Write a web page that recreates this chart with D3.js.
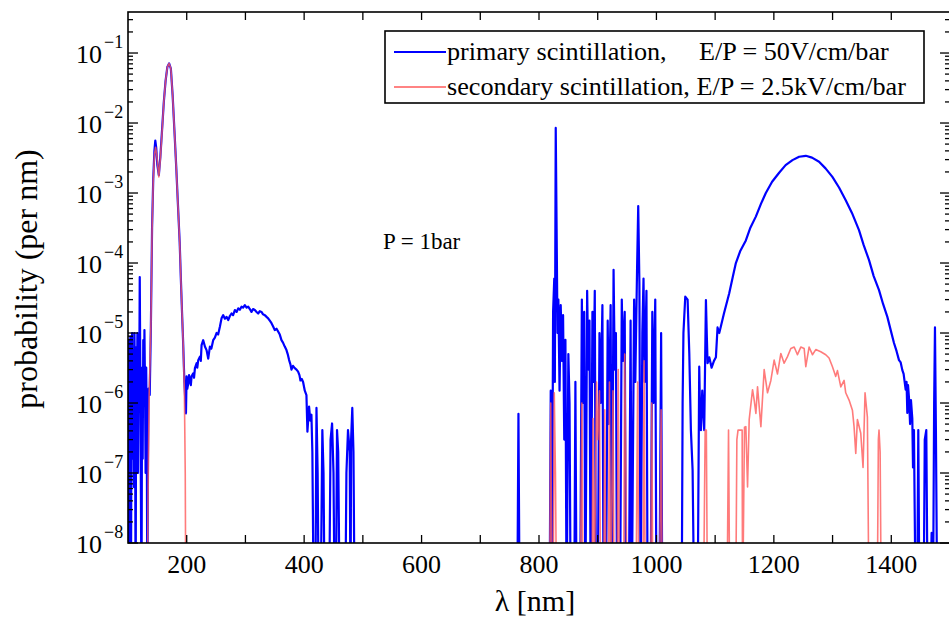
<!DOCTYPE html>
<html>
<head>
<meta charset="utf-8">
<script src="https://cdn.jsdelivr.net/npm/d3@7/dist/d3.min.js"></script>
<style>
  body { margin: 0; background: #fff; }
  svg { display: block; }
  text { font-family: "Liberation Serif", "Times New Roman", serif; fill: #000; }
</style>
</head>
<body>
<svg id="chart" width="949" height="621"></svg>
<script>
// ---- data: [wavelength nm, probability per nm]; 0 = nothing recorded ----
const primaryUV = [
  [100, 3.2e-6], [101, 0], [102, 7.9e-6], [103, 3.2e-7], [104, 8.9e-6], [105, 0], [106, 2.5e-6],
  [107, 1.0e-5], [108, 1.6e-7], [109, 5.0e-6], [110, 6.3e-8], [111, 1.0e-5], [112, 1.0e-6], [113, 0],
  [114, 6.3e-6], [115, 5.0e-7], [116, 1.0e-5], [117, 1.0e-7], [118, 4.0e-6], [119, 1.0e-6],
  [120, 6.3e-5], [121, 2.5e-6], [122, 5.0e-8], [123, 0], [124, 3.2e-6], [125, 1.6e-7], [126, 7.9e-6],
  [127, 1.0e-6], [128, 1.1e-5], [129, 1.6e-6], [130, 1.0e-7], [131, 3.2e-6], [132, 3.2e-7], [133, 0],
  [134, 1.6e-7], [135, 1.6e-6], [137, 1.3e-6], [139, 1.3e-5], [141, 3.2e-4], [143, 1.6e-3],
  [145, 4.0e-3], [146.5, 5.6e-3], [148, 4.5e-3], [150, 2.5e-3], [152.5, 1.8e-3], [155, 3.2e-3],
  [158, 7.9e-3], [161, 2.0e-2], [164, 4.0e-2], [167, 6.3e-2], [170, 7.1e-2], [173, 6.0e-2],
  [176, 2.5e-2], [179, 8.0e-3], [182, 2.5e-3], [185, 7.0e-4], [188, 2.0e-4], [190, 6.0e-5],
  [192, 2.0e-5], [194, 7.0e-6], [196, 2.0e-6], [198.7, 7.1e-7], [199.8, 2.4e-6], [201, 1.6e-6],
  [202.6, 1.9e-6], [204, 2.5e-6], [205.5, 2.1e-6], [207, 1.8e-6], [208.3, 2.4e-6], [211.1, 2.65e-6],
  [212.5, 2.3e-6], [214, 3.15e-6], [216.8, 3.7e-6], [218, 3.2e-6], [219.6, 4.1e-6], [222.5, 4.6e-6],
  [224, 4.0e-6], [225.3, 6.7e-6], [228.1, 7.9e-6], [231, 6.4e-6], [233.8, 5.7e-6], [236.6, 4.3e-6],
  [239.5, 6.4e-6], [242, 6.0e-6], [245.1, 7.9e-6], [248, 8.6e-6], [250.8, 1.0e-5], [253.5, 9.5e-6],
  [256.5, 1.23e-5], [259.3, 1.62e-5], [262.2, 1.8e-5], [265, 1.6e-5], [267.8, 1.7e-5],
  [270.7, 1.53e-5], [273.5, 1.75e-5], [276.3, 1.9e-5], [279, 1.8e-5], [282, 2.13e-5], [285, 2.0e-5],
  [287.7, 2.25e-5], [290.5, 2.15e-5], [293.3, 2.38e-5], [296, 2.3e-5], [299, 2.5e-5], [302, 2.3e-5],
  [304.7, 2.38e-5], [307.5, 2.2e-5], [310.3, 2.0e-5], [313, 2.2e-5], [316, 2.13e-5], [319, 2.0e-5],
  [321.7, 1.9e-5], [324.5, 2.05e-5], [327.4, 2.0e-5], [330, 1.85e-5], [333, 1.8e-5], [336, 1.7e-5],
  [338.7, 1.62e-5], [341.5, 1.5e-5], [344.4, 1.38e-5], [347, 1.25e-5], [350, 1.1e-5], [353, 1.15e-5],
  [355.7, 1.05e-5], [358.5, 9.5e-6], [361.4, 7.9e-6], [364, 7.3e-6], [367, 6.4e-6], [369.9, 5.7e-6],
  [372, 5.0e-6], [374.4, 4.1e-6], [376.5, 3.6e-6], [378.4, 3.0e-6], [381, 3.4e-6], [384, 3.15e-6],
  [387, 3.0e-6], [389.7, 2.8e-6], [392, 2.5e-6], [393.7, 2.1e-6], [396, 2.2e-6], [398.2, 2.0e-6],
  [401.1, 1.5e-6], [403.9, 1.3e-6], [405.6, 3.9e-7], [408.4, 8.9e-7], [410.5, 5.6e-7],
  [412.4, 6.8e-7], [414, 2.0e-7], [416.4, 0], [419, 0], [421, 8.5e-7], [423, 1.0e-7], [424.9, 0],
  [428, 0], [431, 4.1e-7], [433, 1.0e-7], [435, 0], [442.5, 0], [445, 3.0e-7], [447.6, 5.1e-7],
  [450, 1.0e-7], [452, 0], [454, 0], [456, 4.1e-7], [458, 2.0e-7], [460.6, 0], [470, 0],
  [472, 1.0e-7], [474.7, 4.1e-7], [476, 3.0e-7], [477.6, 2.0e-7], [479, 0], [480, 3.0e-7],
  [482, 8.5e-7], [484, 2.0e-7], [486, 0], [490, 0]
];

const primaryNIR = [
  [755, 0], [763, 0], [765, 7e-7], [767, 0], [818, 0], [820, 1.5e-6], [822, 0], [824, 2e-5],
  [826, 6e-5], [827, 2e-6], [828.5, 8.5e-3], [830, 3e-4], [831.5, 1e-5], [833, 3e-5], [835, 1.5e-6],
  [837, 2.5e-5], [839, 4e-6], [841, 1.8e-5], [843, 3e-7], [845, 8e-6], [847, 0], [850, 5e-6],
  [852, 1e-6], [854, 0], [860, 0], [862, 2e-6], [864, 0], [870, 0], [873, 3e-5], [875, 1e-6],
  [877, 2e-5], [879, 0], [882, 4e-5], [884, 3e-6], [886, 1.5e-5], [888, 0], [891, 2e-5], [893, 2e-6],
  [895, 4e-5], [897, 0], [900, 0], [903, 1e-5], [905, 1e-6], [908, 2.5e-5], [910, 0], [914, 0],
  [917, 1.5e-5], [919, 5e-7], [922, 2.5e-5], [924, 0], [927, 8e-5], [929, 3e-6], [931, 1e-5],
  [933, 0], [938, 0], [941, 3e-5], [943, 4e-6], [946, 2e-5], [948, 0], [953, 0], [956, 1.5e-5],
  [958, 0], [962, 3e-5], [964, 2e-6], [967, 8e-5], [969, 6.5e-4], [971, 5e-5], [973, 0], [976, 1e-5],
  [978, 6e-5], [980, 2e-6], [983, 4e-5], [985, 0], [990, 0], [993, 2e-5], [995, 1e-6], [998, 3e-5],
  [1000, 0], [1005, 0], [1008, 1e-5], [1010, 0], [1043, 0]
];

const primaryIR = [
  [1043, 0], [1044.6, 1e-6], [1046, 1e-5], [1049.1, 3.3e-5], [1053.1, 3.0e-5], [1056, 5e-6],
  [1058.7, 4.1e-7], [1061.6, 1.1e-7], [1064.4, 0], [1070.1, 0], [1072.9, 3.3e-6], [1074, 1e-6],
  [1075.8, 4.1e-7], [1078, 1.5e-6], [1081.4, 4.1e-7], [1084.3, 2.95e-5], [1086, 8e-6],
  [1087.1, 3.7e-6], [1090, 4.5e-6], [1094, 3.2e-6], [1098, 4.0e-6], [1101.3, 4.5e-6],
  [1104.1, 1.2e-5], [1107, 1.0e-5], [1109.8, 1.25e-5], [1115, 1.9e-5], [1124, 3.7e-5],
  [1130, 6.3e-5], [1135.3, 1.0e-4], [1143, 1.5e-4], [1152.3, 2.1e-4], [1160, 3.2e-4],
  [1169.3, 4.6e-4], [1178, 7.0e-4], [1186.3, 1.0e-3], [1197, 1.45e-3], [1209, 1.95e-3],
  [1220, 2.5e-3], [1231.7, 2.95e-3], [1243, 3.3e-3], [1254.4, 3.4e-3], [1265, 3.2e-3],
  [1277, 2.8e-3], [1288, 2.25e-3], [1299.7, 1.7e-3], [1311, 1.2e-3], [1322.4, 7.9e-4],
  [1333, 5.2e-4], [1345, 2.95e-4], [1353, 1.8e-4], [1362.1, 1.1e-4], [1370, 6.5e-5],
  [1379.1, 4.1e-5], [1386, 2.6e-5], [1393.3, 1.7e-5], [1399, 1.1e-5], [1404.6, 7.2e-6],
  [1409, 5.5e-6], [1413.1, 4.1e-6], [1416, 3.8e-6], [1418.8, 2.95e-6], [1421, 2.6e-6],
  [1424.5, 1.55e-6], [1426, 2.0e-6], [1427.3, 7.2e-7], [1428.5, 1.8e-6], [1430.1, 1.2e-6],
  [1432, 5e-7], [1433.5, 1.1e-6], [1435.8, 6.0e-7], [1437, 1.2e-7], [1438.6, 4.1e-7], [1441.5, 0],
  [1444, 0], [1446, 4.1e-7], [1448, 0], [1455, 0], [1457, 3e-7], [1459.6, 4.1e-7], [1462, 0],
  [1466, 0], [1468.7, 1.4e-8], [1471, 0], [1473, 1e-6], [1474.4, 1.2e-5], [1476, 4e-7],
  [1478.3, 0], [1500, 0]
];

const secondaryUV = [
  [100, 0], [132.6, 0], [134, 3.2e-8], [136, 1.3e-6], [139, 1.3e-5], [141, 3.0e-4], [143, 1.5e-3],
  [145, 3.5e-3], [147, 4.5e-3], [149, 3.5e-3], [152.5, 1.7e-3], [155, 3.0e-3], [158, 7.5e-3],
  [161, 2.0e-2], [164, 4.0e-2], [167, 6.3e-2], [170, 7.1e-2], [173, 6.0e-2], [176, 2.5e-2],
  [179, 8.0e-3], [182, 2.5e-3], [185, 7.0e-4], [188, 2.0e-4], [190, 6.0e-5], [192, 2.0e-5],
  [194, 7.0e-6], [196, 1.5e-6], [197.5, 1.0e-7], [198.5, 0], [800, 0]
];

const secondaryNIR = [
  [800, 0], [818, 0], [820, 1e-6], [822, 0], [824, 0], [826, 1.4e-6], [828, 1e-7], [830, 0],
  [870, 0], [873, 1e-6], [875, 0], [890, 0], [892, 6e-7], [894, 0], [898, 2e-6], [900, 3e-7],
  [903, 1.5e-6], [905, 0], [910, 0], [912, 8e-7], [914, 0], [918, 0], [920, 2e-6], [922, 0],
  [926, 1.5e-6], [928, 0], [933, 0], [935, 3e-6], [937, 0], [944, 0], [946, 5e-6], [948, 1e-7],
  [950, 0], [965, 0], [968, 2e-6], [970, 0], [977, 0], [979, 4e-6], [981, 0], [990, 0], [992, 1e-6],
  [994, 0], [1005, 0], [1008, 8e-7], [1010, 0], [1080, 0]
];

const secondaryIR = [
  [1080, 0], [1083, 4.1e-7], [1085, 4.1e-7], [1087, 0], [1120, 0], [1122.8, 4.1e-7], [1125, 0],
  [1135, 0], [1137, 3e-7], [1139, 4.1e-7], [1141, 4.1e-7], [1146, 4.1e-7], [1146.7, 0],
  [1150, 4.5e-7], [1152.3, 4.6e-7], [1155.2, 6.3e-8], [1158, 5.8e-7], [1163.7, 1.55e-6],
  [1166.5, 1.1e-6], [1169.4, 7.1e-7], [1172.2, 1.7e-6], [1177.9, 4.6e-7], [1183.5, 3.0e-6],
  [1189.2, 1.4e-6], [1194.9, 2.1e-6], [1200.5, 4.1e-6], [1206.2, 2.6e-6], [1211.9, 5.1e-6],
  [1217.5, 3.7e-6], [1223.2, 4.6e-6], [1228.9, 6.0e-6], [1234.6, 6.3e-6], [1240.2, 4.9e-6],
  [1245.9, 6.3e-6], [1251.6, 6.0e-6], [1254.4, 3.3e-6], [1260, 6.3e-6], [1265.7, 4.9e-6],
  [1271.4, 5.8e-6], [1279.9, 5.4e-6], [1288.4, 4.9e-6], [1294, 4.4e-6], [1299.8, 3.3e-6],
  [1305.4, 2.4e-6], [1308.3, 2.9e-6], [1314, 1.7e-6], [1319.6, 2.1e-6], [1322.4, 1.4e-6],
  [1328.1, 1.1e-6], [1333.8, 7.9e-7], [1336.6, 4.6e-7], [1339.5, 1.9e-7], [1342.3, 5.8e-7],
  [1348, 3.7e-7], [1351.9, 1.2e-7], [1355.3, 1.4e-6], [1359.3, 6.3e-7], [1362.1, 0], [1376, 0],
  [1378, 3e-7], [1379.1, 4.1e-7], [1381, 2e-7], [1383, 0], [1500, 0]
];

const xTickLabels = [200, 400, 600, 800, 1000, 1200, 1400];
const yDecades = [-8, -7, -6, -5, -4, -3, -2, -1];
const legendItems = [
  { name: 'primary scintillation,', field: 'E/P = 50V/cm/bar', color: '#0000ff' },
  { name: 'secondary scintillation, E/P = 2.5kV/cm/bar', field: null, color: '#ff5a5a' }
];

// ---- layout ----
const svg = d3.select('#chart');
const m = { l: 128, r: 950, t: 12, b: 543 };

const x = d3.scaleLinear().domain([100, 1500]).range([m.l, m.r]);
const y = d3.scaleLog().domain([1e-8, Math.pow(10, -0.414)]).range([m.b, m.t]);
const yv = v => y(Math.max(v, 1e-9)); // zero / tiny values run off the bottom and get clipped

svg.append('defs').append('clipPath').attr('id', 'plot-clip')
  .append('rect').attr('x', m.l).attr('y', m.t).attr('width', m.r - m.l).attr('height', m.b - m.t);

const line = d3.line().x(d => x(d[0])).y(d => yv(d[1]));
const plot = svg.append('g').attr('clip-path', 'url(#plot-clip)');

const primary = primaryUV.concat(primaryNIR.slice(1), primaryIR.slice(1));
const secondary = secondaryUV.concat(secondaryNIR.slice(1), secondaryIR.slice(1));

plot.append('path').datum(primary)
  .attr('fill', 'none').attr('stroke', '#0000ff').attr('stroke-width', 2.2)
  .attr('stroke-linejoin', 'round').attr('d', line);
plot.append('path').datum(secondary)
  .attr('fill', 'none').attr('stroke', '#ff5a5a').attr('stroke-opacity', 0.8).attr('stroke-width', 1.6)
  .attr('stroke-linejoin', 'round').attr('d', line);

// ---- frame + ticks (inward, all four sides) ----
const axes = svg.append('g').attr('stroke', '#000').attr('fill', 'none');
axes.append('rect').attr('x', m.l).attr('y', m.t).attr('width', m.r - m.l).attr('height', m.b - m.t)
  .attr('stroke-width', 1.6);

const xTicks = d3.range(200, 1500, 100);
axes.selectAll('.xt-b').data(xTicks).join('line')
  .attr('x1', d => x(d)).attr('x2', d => x(d)).attr('y1', m.b).attr('y2', m.b - 8).attr('stroke-width', 1.3);
axes.selectAll('.xt-t').data(xTicks).join('line')
  .attr('x1', d => x(d)).attr('x2', d => x(d)).attr('y1', m.t).attr('y2', m.t + 8).attr('stroke-width', 1.3);

const yTicks = [];
yDecades.forEach(e => {
  for (let k = 1; k <= 9; k++) {
    const v = k * Math.pow(10, e);
    if (v <= y.domain()[1]) yTicks.push({ v, major: k === 1 });
  }
});
axes.selectAll('.yt-l').data(yTicks).join('line')
  .attr('x1', m.l).attr('x2', d => m.l + (d.major ? 10 : 5))
  .attr('y1', d => y(d.v)).attr('y2', d => y(d.v)).attr('stroke-width', 1.3);
axes.selectAll('.yt-r').data(yTicks).join('line')
  .attr('x1', m.r).attr('x2', d => m.r - (d.major ? 10 : 5))
  .attr('y1', d => y(d.v)).attr('y2', d => y(d.v)).attr('stroke-width', 1.3);

// tick labels
svg.append('g').selectAll('text').data(xTickLabels).join('text')
  .attr('x', d => x(d)).attr('y', 573).attr('text-anchor', 'middle')
  .attr('font-size', 26).text(d => d);

const yl = svg.append('g').selectAll('g').data(yDecades).join('g');
yl.append('text').attr('x', 102).attr('y', d => y(Math.pow(10, d)) + 10)
  .attr('text-anchor', 'end').attr('font-size', 26).text('10');
yl.append('text').attr('x', 104).attr('y', d => y(Math.pow(10, d)) - 5)
  .attr('font-size', 18).text(d => '\u2212' + Math.abs(d));

// axis titles
svg.append('text').attr('x', 535).attr('y', 611).attr('text-anchor', 'middle')
  .attr('font-size', 30).text('λ [nm]');
svg.append('text').attr('transform', 'translate(37,279) rotate(-90)').attr('text-anchor', 'middle')
  .attr('font-size', 32).text('probability (per nm)');

// annotation
svg.append('text').attr('x', 383).attr('y', 249).attr('font-size', 23).text('P = 1bar');

// ---- legend ----
const lg = svg.append('g');
lg.append('rect').attr('x', 385).attr('y', 31).attr('width', 539).attr('height', 72)
  .attr('fill', '#fff').attr('stroke', '#000').attr('stroke-width', 1.6);
legendItems.forEach((it, i) => {
  const cy = 52 + i * 35;
  lg.append('line').attr('x1', 394).attr('x2', 446).attr('y1', cy).attr('y2', cy)
    .attr('stroke', it.color).attr('stroke-width', i === 0 ? 2.2 : 1.6);
  lg.append('text').attr('x', 447).attr('y', cy + 8).attr('font-size', 26.2).text(it.name);
  if (it.field) lg.append('text').attr('x', 699).attr('y', cy + 8).attr('font-size', 26.2).text(it.field);
});
</script>
</body>
</html>
